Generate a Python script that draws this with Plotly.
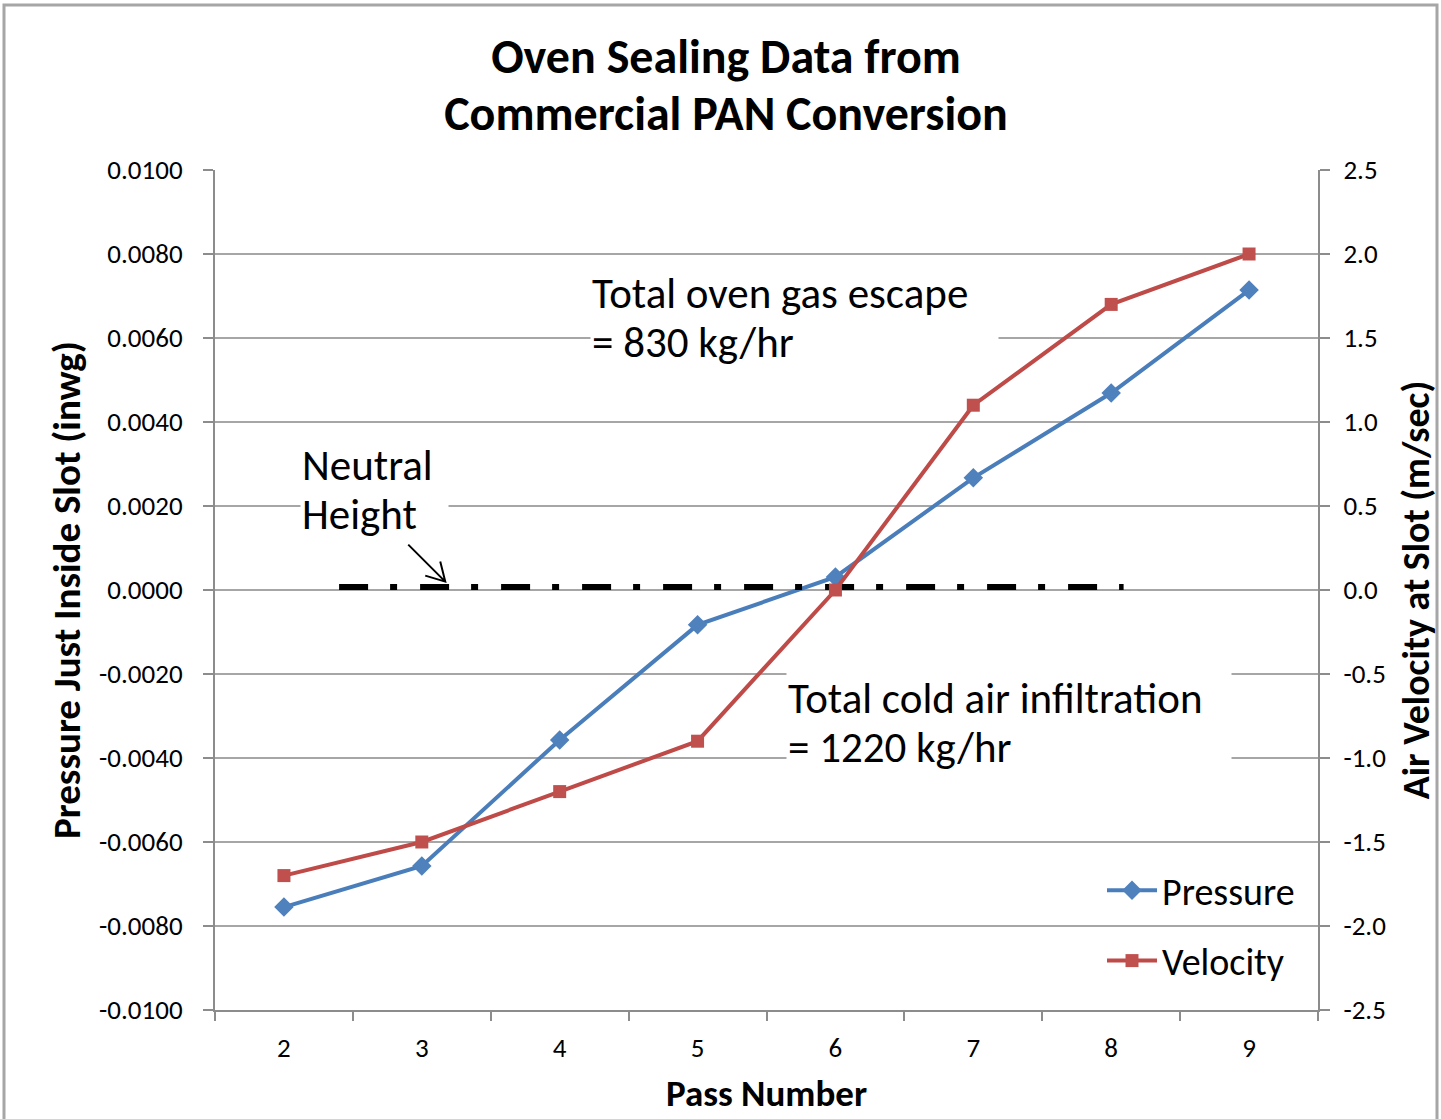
import plotly.graph_objects as go

# ---- data ----
pass_number = [2, 3, 4, 5, 6, 7, 8, 9]
pressure = [-0.00755, -0.00657, -0.00357, -0.00083, 0.00031, 0.00267, 0.00469, 0.00714]
velocity = [-1.7, -1.5, -1.2, -0.9, 0.0, 1.1, 1.7, 2.0]
neutral_x = [2.4, 8.09]
neutral_y = [0.00007, 0.00007]

left_tickvals = [-0.01, -0.008, -0.006, -0.004, -0.002, 0.0, 0.002, 0.004, 0.006, 0.008, 0.01]
left_ticktext = ["-0.0100", "-0.0080", "-0.0060", "-0.0040", "-0.0020", "0.0000",
                 "0.0020", "0.0040", "0.0060", "0.0080", "0.0100"]
right_tickvals = [-2.5, -2.0, -1.5, -1.0, -0.5, 0.0, 0.5, 1.0, 1.5, 2.0, 2.5]
right_ticktext = ["-2.5", "-2.0", "-1.5", "-1.0", "-0.5", "0.0", "0.5", "1.0", "1.5", "2.0", "2.5"]
x_boundaries = [1.5, 2.5, 3.5, 4.5, 5.5, 6.5, 7.5, 8.5, 9.5]

FONT = "Carlito, Lato, sans-serif"
BLUE = "#4A7EBB"
BLUE_M = "#4F81BD"
RED = "#BE4B48"
RED_M = "#C0504D"
GRID = "#A6A6A6"
AXIS = "#8C8C8C"

fig = go.Figure()
fig.add_trace(go.Scatter(
    x=pass_number, y=pressure, name="Pressure", mode="lines+markers",
    line=dict(color=BLUE, width=4),
    marker=dict(symbol="diamond", size=15, color=BLUE_M, line=dict(width=0)),
    yaxis="y", legendgroup="p"))
fig.add_trace(go.Scatter(
    x=pass_number, y=velocity, name="Velocity", mode="lines+markers",
    line=dict(color=RED, width=4),
    marker=dict(symbol="square", size=13, color=RED_M, line=dict(width=0)),
    yaxis="y2", legendgroup="v"))
fig.add_trace(go.Scatter(
    x=neutral_x, y=neutral_y, mode="lines", showlegend=False, hoverinfo="skip",
    line=dict(color="black", width=6, dash="29px,22px,7px,23px"), yaxis="y"))

W, H = 1441, 1119
L, R, T, B = 215, 123, 170, 109
pw, ph = W - L - R, H - T - B

def px(xp):
    return (xp - L) / pw

def py(yp):
    return (H - B - yp) / ph

def big(text, size):
    return "<br>".join(f"<span style='font-size:{size}px'>{t}</span>" for t in text.split("<br>"))

fig.update_layout(
    width=W, height=H,
    margin=dict(l=L, r=R, t=T, b=B, autoexpand=False),
    paper_bgcolor="white", plot_bgcolor="white",
    font=dict(family=FONT, color="black"),
    title=dict(text="<b>" + big("Oven Sealing Data from<br>Commercial PAN Conversion", 48) + "</b>",
               x=726 / W, xanchor="center", xref="container",
               y=1 - 73 / H, yanchor="middle", yref="container",
               font=dict(size=44, family=FONT, color="black")),
    showlegend=True,
    legend=dict(x=px(1300), xanchor="right", y=py(992), yanchor="bottom",
                bgcolor="rgba(0,0,0,0)", font=dict(size=38, family=FONT, color="black"),
                traceorder="grouped", tracegroupgap=18, itemwidth=50),
    xaxis=dict(range=[1.5, 9.5], tickvals=pass_number, ticktext=[str(v) for v in pass_number],
               ticks="", showgrid=False, zeroline=False,
               showline=True, linecolor=AXIS, linewidth=2,
               tickfont=dict(size=27, family=FONT, color="black"),
               ticklabelstandoff=13,
               minor=dict(tickvals=x_boundaries, ticks="outside", ticklen=9,
                          tickwidth=2, tickcolor=AXIS, showgrid=False),
               title=dict(text="<b>Pass Number</b>", standoff=17,
                          font=dict(size=37, family=FONT, color="black"))),
    yaxis=dict(range=[-0.01, 0.01], tickvals=left_tickvals, ticktext=left_ticktext,
               ticks="outside", ticklen=10, tickwidth=2, tickcolor=AXIS,
               showgrid=True, gridcolor=GRID, gridwidth=2, zeroline=False,
               showline=True, linecolor=AXIS, linewidth=2,
               tickfont=dict(size=27, family=FONT, color="black"),
               ticklabelstandoff=15,
               title=dict(text="<b>Pressure Just Inside Slot (inwg)</b>", standoff=6,
                          font=dict(size=39, family=FONT, color="black"))),
    yaxis2=dict(range=[-2.5, 2.5], tickvals=right_tickvals, ticktext=right_ticktext,
                overlaying="y", side="right",
                ticks="outside", ticklen=10, tickwidth=2, tickcolor=AXIS,
                showgrid=False, zeroline=False,
                showline=True, linecolor=AXIS, linewidth=2,
                tickfont=dict(size=27, family=FONT, color="black"),
                ticklabelstandoff=8,
                title=dict(text="<b>Air Velocity at Slot (m/sec)</b>", standoff=18,
                           font=dict(size=38, family=FONT, color="black"))),
)

# chart-area border
fig.add_shape(type="rect", xref="paper", yref="paper",
              x0=px(4), x1=px(1437), y0=py(1130), y1=py(5),
              line=dict(color="#A6A6A6", width=3), fillcolor="rgba(0,0,0,0)", layer="below")

# text boxes
box_font = dict(size=38, family=FONT, color="black")
fig.add_annotation(text=big("Neutral<br>Height", 43), xref="x", yref="y", x=2.116, y=0.00238,
                   xanchor="left", yanchor="middle", align="left", showarrow=False,
                   bgcolor="white", width=145, height=100, font=box_font)
fig.add_annotation(text=big("Total oven gas escape<br>= 830 kg/hr", 43), xref="x", yref="y",
                   x=4.217, y=0.00648, xanchor="left", yanchor="middle", align="left",
                   showarrow=False, bgcolor="white", width=405, height=100, font=box_font)
fig.add_annotation(text=big("Total cold air infiltration<br>= 1220 kg/hr", 43), xref="x", yref="y",
                   x=5.645, y=-0.00317, xanchor="left", yanchor="middle", align="left",
                   showarrow=False, bgcolor="white", width=442, height=100, font=box_font)

# arrow pointing at the neutral line
fig.add_shape(type="path", xref="x", yref="y", xsizemode="pixel", ysizemode="pixel",
              xanchor=3.17, yanchor=0.0002,
              path="M -37,37 L 0,0 M -20,6 L 0,0 L -5,20",
              line=dict(color="black", width=2))

fig.write_html("out.html")
